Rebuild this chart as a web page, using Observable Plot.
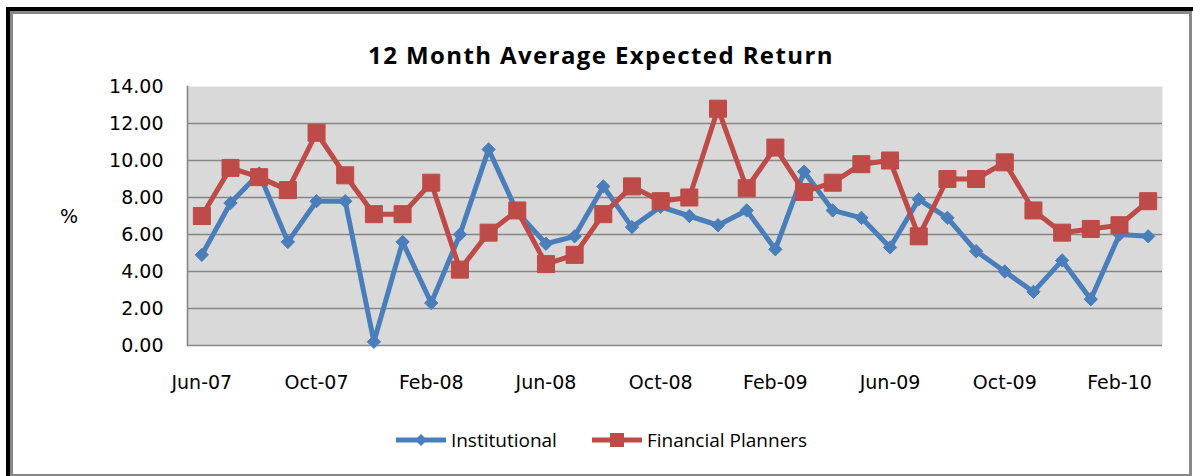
<!DOCTYPE html>
<html>
<head>
<meta charset="utf-8">
<script src="https://cdn.jsdelivr.net/npm/d3@7"></script>
<script src="https://cdn.jsdelivr.net/npm/@observablehq/plot@0.6"></script>
<style>
  html, body { margin: 0; padding: 0; background: #fff; }
  #wrap { position: relative; width: 1193px; height: 476px; overflow: hidden; background: #fff; }
  #outer { position: absolute; left: 6px; top: 7px; width: 1187px; height: 469px; border-top: 4px solid #000; border-left: 4px solid #000; box-sizing: border-box; }
  #inner { position: absolute; left: 10px; top: 11px; width: 1182px; height: 465px; border: 3px solid #888; border-bottom-width: 2px; box-sizing: border-box; }
  #title { position: absolute; left: 10px; width: 1182px; top: 42px; text-align: center; font-family: "Open Sans", sans-serif; font-weight: bold; font-size: 24px; letter-spacing: 1.4px; line-height: 25px; color: #000; }
  #ylabel { position: absolute; left: 60px; top: 205px; font-family: "DejaVu Sans", sans-serif; font-size: 19px; color: #000; }
  #chart { position: absolute; left: 0; top: 76px; }
  #legend { position: absolute; left: 10px; width: 1182px; top: 427px; display: flex; justify-content: center; align-items: center; font-family: "Open Sans", sans-serif; font-size: 19px; color: #000; }
  .item { display: flex; align-items: center; margin: 0 17px; }
  .item svg { margin-right: 4px; }
</style>
</head>
<body>
<div id="wrap">
  <div id="outer"></div>
  <div id="inner"></div>
  <div id="title">12 Month Average Expected Return</div>
  <div id="ylabel">%</div>
  <div id="chart"></div>
  <div id="legend"></div>
</div>
<script>
const months = ["Jun-07","Jul-07","Aug-07","Sep-07","Oct-07","Nov-07","Dec-07","Jan-08","Feb-08","Mar-08","Apr-08","May-08","Jun-08","Jul-08","Aug-08","Sep-08","Oct-08","Nov-08","Dec-08","Jan-09","Feb-09","Mar-09","Apr-09","May-09","Jun-09","Jul-09","Aug-09","Sep-09","Oct-09","Nov-09","Dec-09","Jan-10","Feb-10","Mar-10"];
const institutional = [4.9, 7.7, 9.3, 5.6, 7.8, 7.8, 0.2, 5.6, 2.3, 6.0, 10.6, 7.2, 5.5, 5.9, 8.6, 6.4, 7.5, 7.0, 6.5, 7.3, 5.2, 9.4, 7.3, 6.9, 5.3, 7.9, 6.9, 5.1, 4.0, 2.9, 4.6, 2.5, 6.0, 5.9];
const planners = [7.0, 9.6, 9.1, 8.4, 11.5, 9.2, 7.1, 7.1, 8.8, 4.1, 6.1, 7.3, 4.4, 4.9, 7.1, 8.6, 7.8, 8.0, 12.8, 8.5, 10.7, 8.3, 8.8, 9.8, 10.0, 5.9, 9.0, 9.0, 9.9, 7.3, 6.1, 6.3, 6.5, 7.8];
const seriesNames = ["Institutional", "Financial Planners"];
const seriesColors = ["#4a7ebb", "#be4b48"];
const xTickLabels = ["Jun-07","Oct-07","Feb-08","Jun-08","Oct-08","Feb-09","Jun-09","Oct-09","Feb-10"];
const yTicks = [0, 2, 4, 6, 8, 10, 12, 14];

const instData = months.map((m, i) => ({month: m, value: institutional[i], series: seriesNames[0]}));
const planData = months.map((m, i) => ({month: m, value: planners[i], series: seriesNames[1]}));

const chart = Plot.plot({
  width: 1193,
  height: 330,
  marginLeft: 187,
  marginRight: 31,
  marginTop: 10,
  marginBottom: 61,
  style: {background: "transparent", fontFamily: "DejaVu Sans, sans-serif", fontSize: "19px", color: "#000"},
  x: {type: "point", domain: months, padding: 0.5, round: false, ticks: xTickLabels, tickSize: 0, tickPadding: 30, label: null},
  y: {domain: [0, 14], ticks: yTicks, tickFormat: d => d.toFixed(2), tickSize: 0, tickPadding: 24, label: null},
  color: {domain: seriesNames, range: seriesColors},
  marks: [
    Plot.frame({fill: "#d9d9d9", stroke: "none"}),
    Plot.gridY(yTicks.filter(d => d > 0 && d < 14), {stroke: "#868686", strokeOpacity: 1, strokeWidth: 1.3}),
    Plot.ruleY([0], {stroke: "#868686", strokeWidth: 1.6}),
    Plot.frame({anchor: "left", stroke: "#868686", strokeWidth: 1.6}),
    Plot.line(instData, {x: "month", y: "value", stroke: "series", strokeWidth: 5}),
    Plot.dot(instData, {x: "month", y: "value", fill: "series", stroke: "series", symbol: "diamond2", r: 6, strokeWidth: 1}),
    Plot.line(planData, {x: "month", y: "value", stroke: "series", strokeWidth: 5}),
    Plot.dot(planData, {x: "month", y: "value", fill: "series", stroke: "series", symbol: "square", r: 9.6, strokeWidth: 1})
  ]
});
document.getElementById("chart").appendChild(chart);

// Legend
const legend = document.getElementById("legend");
seriesNames.forEach((name, i) => {
  const item = document.createElement("div");
  item.className = "item";
  const ns = "http://www.w3.org/2000/svg";
  const sw = document.createElementNS(ns, "svg");
  sw.setAttribute("width", 52);
  sw.setAttribute("height", 20);
  const ln = document.createElementNS(ns, "line");
  ln.setAttribute("x1", 1); ln.setAttribute("x2", 51); ln.setAttribute("y1", 10); ln.setAttribute("y2", 10);
  ln.setAttribute("stroke", seriesColors[i]); ln.setAttribute("stroke-width", 5);
  sw.appendChild(ln);
  let mk;
  if (i === 0) {
    mk = document.createElementNS(ns, "path");
    mk.setAttribute("d", "M26,4L32,10L26,16L20,10Z");
  } else {
    mk = document.createElementNS(ns, "rect");
    mk.setAttribute("x", 19); mk.setAttribute("y", 3); mk.setAttribute("width", 14); mk.setAttribute("height", 14);
  }
  mk.setAttribute("fill", seriesColors[i]);
  sw.appendChild(mk);
  item.appendChild(sw);
  const t = document.createElement("span");
  t.textContent = name;
  item.appendChild(t);
  legend.appendChild(item);
});
</script>
</body>
</html>
